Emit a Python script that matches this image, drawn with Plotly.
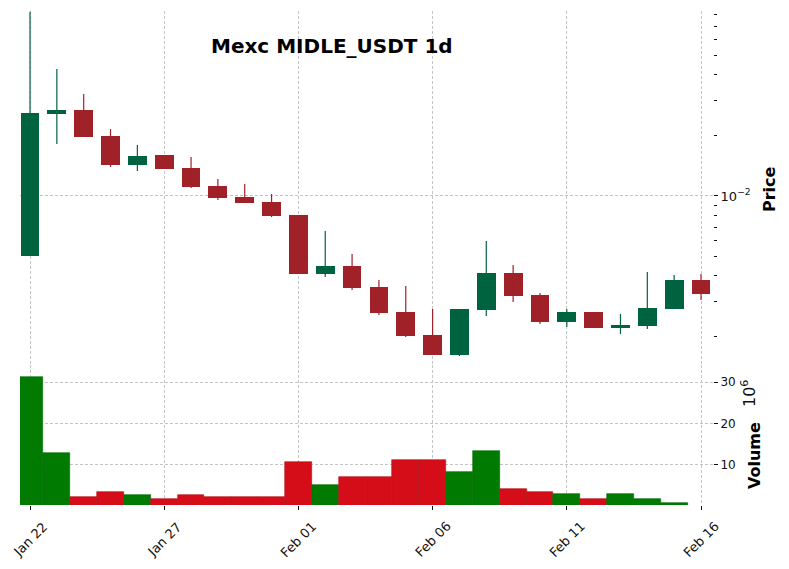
import plotly.graph_objects as go
import pandas as pd

# ---- data ----
dates = pd.date_range("2024-01-22", "2024-02-16", freq="D")

opens = [0.00503, 0.02559, 0.02679, 0.01989, 0.01426, 0.01600, 0.01377, 0.01121, 0.00989,
         0.00934, 0.00804, 0.00409, 0.00449, 0.003526, 0.002648, 0.002034, 0.001618, 0.00271,
         0.00414, 0.00322, 0.00236, 0.002648, 0.002203, 0.002255, 0.00274, 0.00382]
highs = [0.0826, 0.04285, 0.03218, 0.02153, 0.01794, 0.01600, 0.01563, 0.01215, 0.01147,
         0.01023, 0.00804, 0.00670, 0.005145, 0.00382, 0.003566, 0.00274, 0.00274, 0.00597,
         0.00454, 0.00329, 0.00274, 0.002648, 0.002588, 0.004188, 0.004046, 0.00409]
lows = [0.00503, 0.01815, 0.01966, 0.01394, 0.01331, 0.01362, 0.01096, 0.00955, 0.00923,
        0.00786, 0.00409, 0.003955, 0.003405, 0.002559, 0.001988, 0.001618, 0.00160, 0.00253,
        0.00297, 0.002307, 0.002229, 0.002203, 0.002058, 0.00218, 0.00274, 0.003038]
closes = [0.02588, 0.02679, 0.01966, 0.01426, 0.01581, 0.01362, 0.01109, 0.00977, 0.00923,
          0.00795, 0.00409, 0.00449, 0.003485, 0.002618, 0.002011, 0.001618, 0.00274, 0.00414,
          0.00318, 0.00236, 0.002648, 0.002203, 0.002281, 0.002773, 0.00382, 0.003255]
volumes_m = [31.1, 13.0, 2.4, 3.4, 2.65, 1.7, 2.65, 2.2, 2.4, 2.4, 10.8, 5.1, 7.0, 7.0,
             11.3, 11.3, 8.2, 13.25, 4.1, 3.4, 2.9, 1.9, 3.1, 1.9, 0.9, 0.0]

price_ticks = [0.01]
price_tick_text = ["10<sup>\u22122</sup>"]
price_minor = [0.002, 0.003, 0.004, 0.005, 0.006, 0.007, 0.008, 0.009,
               0.02, 0.03, 0.04, 0.05, 0.06, 0.07, 0.08]
vol_ticks = [10, 20, 30]
date_ticks = ["2024-01-22", "2024-01-27", "2024-02-01", "2024-02-06", "2024-02-11", "2024-02-16"]
date_labels = ["Jan 22", "Jan 27", "Feb 01", "Feb 06", "Feb 11", "Feb 16"]

# ---- styles ----
UP, DOWN = "#006340", "#A02128"
VUP, VDOWN = "#007a00", "#d50d18"
VUP_EDGE, VDOWN_EDGE = "#006a00", "#b30f18"
GRID = "#c4c4c4"
FONT = "DejaVu Sans"
DAY_MS = 86400000

up = [c >= o for o, c in zip(opens, closes)]

fig = go.Figure()

# wicks
for flag, col in ((True, UP), (False, DOWN)):
    xs, ys = [], []
    for d, h, l, u in zip(dates, highs, lows, up):
        if u == flag:
            xs += [d, d, None]
            ys += [l, h, None]
    fig.add_trace(go.Scatter(x=xs, y=ys, mode="lines", line=dict(color=col, width=1.2),
                             hoverinfo="skip", showlegend=False, yaxis="y"))

# bodies
for flag, col in ((True, UP), (False, DOWN)):
    idx = [i for i, u in enumerate(up) if u == flag]
    fig.add_trace(go.Bar(
        x=[dates[i] for i in idx],
        base=[min(opens[i], closes[i]) for i in idx],
        y=[max(abs(closes[i] - opens[i]), 1e-6) for i in idx],
        width=0.7 * DAY_MS,
        marker=dict(color=col, line=dict(width=0)),
        showlegend=False, yaxis="y"))

# volume
fig.add_trace(go.Bar(
    x=dates, y=volumes_m, width=DAY_MS,
    marker=dict(color=[VUP if u else VDOWN for u in up],
                line=dict(width=0.6, color=[VUP_EDGE if u else VDOWN_EDGE for u in up])),
    showlegend=False, yaxis="y2"))

vol_top = 0.2834
fig.update_layout(
    width=789, height=569,
    margin=dict(l=20, r=76, t=11, b=64),
    paper_bgcolor="white", plot_bgcolor="white",
    barmode="overlay", bargap=0,
    font=dict(family=FONT, size=12, color="#111"),
    xaxis=dict(
        type="date", anchor="y2", automargin=False,
        range=["2024-01-21 15:03", "2024-02-16 10:44"],
        tickvals=date_ticks, showticklabels=False,
        ticks="outside", ticklen=4, tickcolor="#111",
        showgrid=True, gridcolor=GRID, griddash="3px,2px", gridwidth=0.8,
        showline=False, zeroline=False,
    ),
    yaxis=dict(
        type="log", domain=[vol_top, 1], side="right", anchor="x", automargin=False,
        range=[-2.8407, -1.0799],
        tickvals=price_ticks, ticktext=price_tick_text,
        tickfont=dict(size=13),
        ticks="outside", ticklen=4, tickcolor="#111",
        showgrid=True, gridcolor=GRID, griddash="3px,2px", gridwidth=0.8,
        minor=dict(tickvals=price_minor, ticks="outside", ticklen=3,
                   tickcolor="#111", showgrid=False),
        showline=False, zeroline=False,
    ),
    yaxis2=dict(
        domain=[0, vol_top], side="right", anchor="x", automargin=False,
        range=[0.35, 34.1],
        tickvals=vol_ticks, tickfont=dict(size=12),
        ticks="outside", ticklen=4, tickcolor="#111",
        showgrid=True, gridcolor=GRID, griddash="3px,2px", gridwidth=0.8,
        showline=False, zeroline=False,
    ),
)

W, H = 693, 494
def px(x):
    return (x - 20) / W
def py(y):
    return (505 - y) / H

for d, lab in zip(date_ticks, date_labels):
    fig.add_annotation(text=lab, x=d, xref="x", y=py(539), yref="paper",
                       showarrow=False, textangle=-45,
                       font=dict(family=FONT, size=13, color="#111"),
                       xanchor="center", yanchor="middle")

fig.add_annotation(text="<b>Mexc MIDLE_USDT 1d</b>", x=px(332), y=py(46),
                   xref="paper", yref="paper", showarrow=False,
                   font=dict(family=FONT, size=20, color="black"),
                   xanchor="center", yanchor="middle")
fig.add_annotation(text="<b>Price</b>", x=px(770), y=py(189),
                   xref="paper", yref="paper", showarrow=False, textangle=-90,
                   font=dict(family=FONT, size=16, color="black"),
                   xanchor="center", yanchor="middle")
fig.add_annotation(text="<b>Volume</b>", x=px(754), y=py(456),
                   xref="paper", yref="paper", showarrow=False, textangle=-90,
                   font=dict(family=FONT, size=16, color="black"),
                   xanchor="center", yanchor="middle")
fig.add_annotation(text="10<sup>6</sup>", x=px(749), y=py(394),
                   xref="paper", yref="paper", showarrow=False, textangle=-90,
                   font=dict(family=FONT, size=16, color="#111"),
                   xanchor="center", yanchor="middle")

fig.write_html("out.html")
